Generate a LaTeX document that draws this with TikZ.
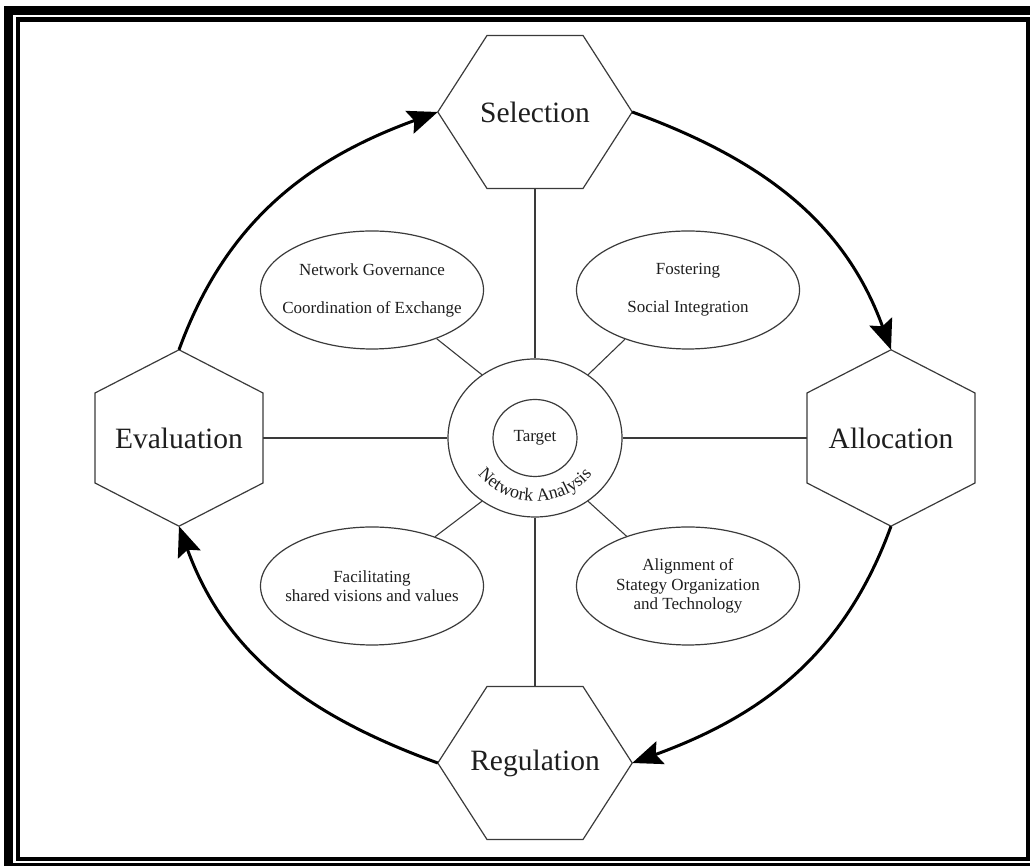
\documentclass[tikz,border=0pt]{standalone}
\usepackage{fontspec}
\setmainfont{Liberation Serif}
\usetikzlibrary{arrows.meta,calc,decorations.text,shapes.geometric}
\definecolor{linec}{HTML}{3A3A3A}
\definecolor{txtc}{HTML}{1E1E1E}
\newcommand{\zw}[1]{\makebox[0pt][c]{#1}}
\begin{document}
\begin{tikzpicture}[x=1pt,y=1pt,
  hexbox/.style={rectangle,inner sep=0pt,text=txtc,font=\fontsize{29.5}{32}\selectfont},
  hexline/.style={draw=linec,line width=1.2pt,line join=miter},
  oval/.style={ellipse,draw=linec,line width=1.2pt,minimum width=223pt,minimum height=118pt,inner sep=0pt,align=center,text=txtc,font=\fontsize{17}{19.5}\selectfont},
  ring/.style={ellipse,draw=linec,line width=1.2pt,inner sep=0pt,text=txtc,font=\fontsize{17}{19}\selectfont},
  conn/.style={draw=linec,line width=1.1pt},
  cyc/.style={line width=3pt,-{Stealth[length=30pt,width=24pt,inset=5pt]}},
  frameout/.style={line width=9pt},
  framein/.style={line width=4.5pt}
]
\useasboundingbox (0,0) rectangle (1030,866);
% frame
\draw[frameout] (8.5,855.5) rectangle (1037.5,-1.5);
\draw[framein] (18,846.5) rectangle (1028,7);

% hexagons
\node[hexbox,minimum width=194pt,minimum height=153pt] (sel) at (535,754) {Selection};
\draw[hexline] (sel.east) -- ($(sel.center)+(48,76.5)$) -- ($(sel.center)+(-48,76.5)$) -- (sel.west) -- ($(sel.center)+(-48,-76.5)$) -- ($(sel.center)+(48,-76.5)$) -- cycle;

\node[hexbox,minimum width=194pt,minimum height=153pt] (reg) at (535,103) {Regulation};
\draw[hexline] (reg.east) -- ($(reg.center)+(48,76.5)$) -- ($(reg.center)+(-48,76.5)$) -- (reg.west) -- ($(reg.center)+(-48,-76.5)$) -- ($(reg.center)+(48,-76.5)$) -- cycle;

\node[hexbox,minimum width=168pt,minimum height=176pt] (evalu) at (179,428) {Evaluation};
\draw[hexline] (evalu.north) -- ($(evalu.center)+(84,45)$) -- ($(evalu.center)+(84,-45)$) -- (evalu.south) -- ($(evalu.center)+(-84,-45)$) -- ($(evalu.center)+(-84,45)$) -- cycle;

\node[hexbox,minimum width=168pt,minimum height=176pt] (alloc) at (891,428) {Allocation};
\draw[hexline] (alloc.north) -- ($(alloc.center)+(84,45)$) -- ($(alloc.center)+(84,-45)$) -- (alloc.south) -- ($(alloc.center)+(-84,-45)$) -- ($(alloc.center)+(-84,45)$) -- cycle;

% cycle arrows
\draw[cyc] (evalu.north) to[out=70,in=200] (sel.west);
\draw[cyc] (sel.east) to[out=-20,in=110] (alloc.north);
\draw[cyc] (alloc.south) to[out=-110,in=20] (reg.east);
\draw[cyc] (reg.west) to[out=160,in=-70] (evalu.south);

% centre
\node[ring,minimum width=174pt,minimum height=158pt] (circ) at (535,428) {};
\node[ring,minimum width=84pt,minimum height=77pt] (tgt) at (535,428) {Target};
\path[decorate,decoration={text along path,text align=center,text color=txtc,
  text={|\fontsize{18}{18}\selectfont|Network Analysis}}]
  ($(circ.center)+(198:70pt and 63pt)$) arc[start angle=198,end angle=342,x radius=70pt,y radius=63pt];

% ellipses
\node[oval] (ng) at (372,576) {\zw{Network Governance}\\[18.5pt]\zw{Coordination of Exchange}};
\node[oval] (fos) at (688,576) {\zw{Fostering}\\[18.5pt]\zw{Social Integration}};
\node[oval] (fac) at (372,280) {\zw{Facilitating}\\\zw{shared visions and values}};
\node[oval] (ali) at (688,280) {\zw{Alignment of}\\\zw{Stategy Organization}\\\zw{and Technology}};

% spokes
\draw[conn] (sel.south) -- (circ.north);
\draw[conn] (circ.south) -- (reg.north);
\draw[conn] (evalu.east) -- (circ.west);
\draw[conn] (circ.east) -- (alloc.west);
\draw[conn] (circ.130) -- (ng.-37);
\draw[conn] (circ.50) -- (fos.218);
\draw[conn] (circ.230) -- (fac.38);
\draw[conn] (circ.310) -- (ali.141);
\end{tikzpicture}
\end{document}
